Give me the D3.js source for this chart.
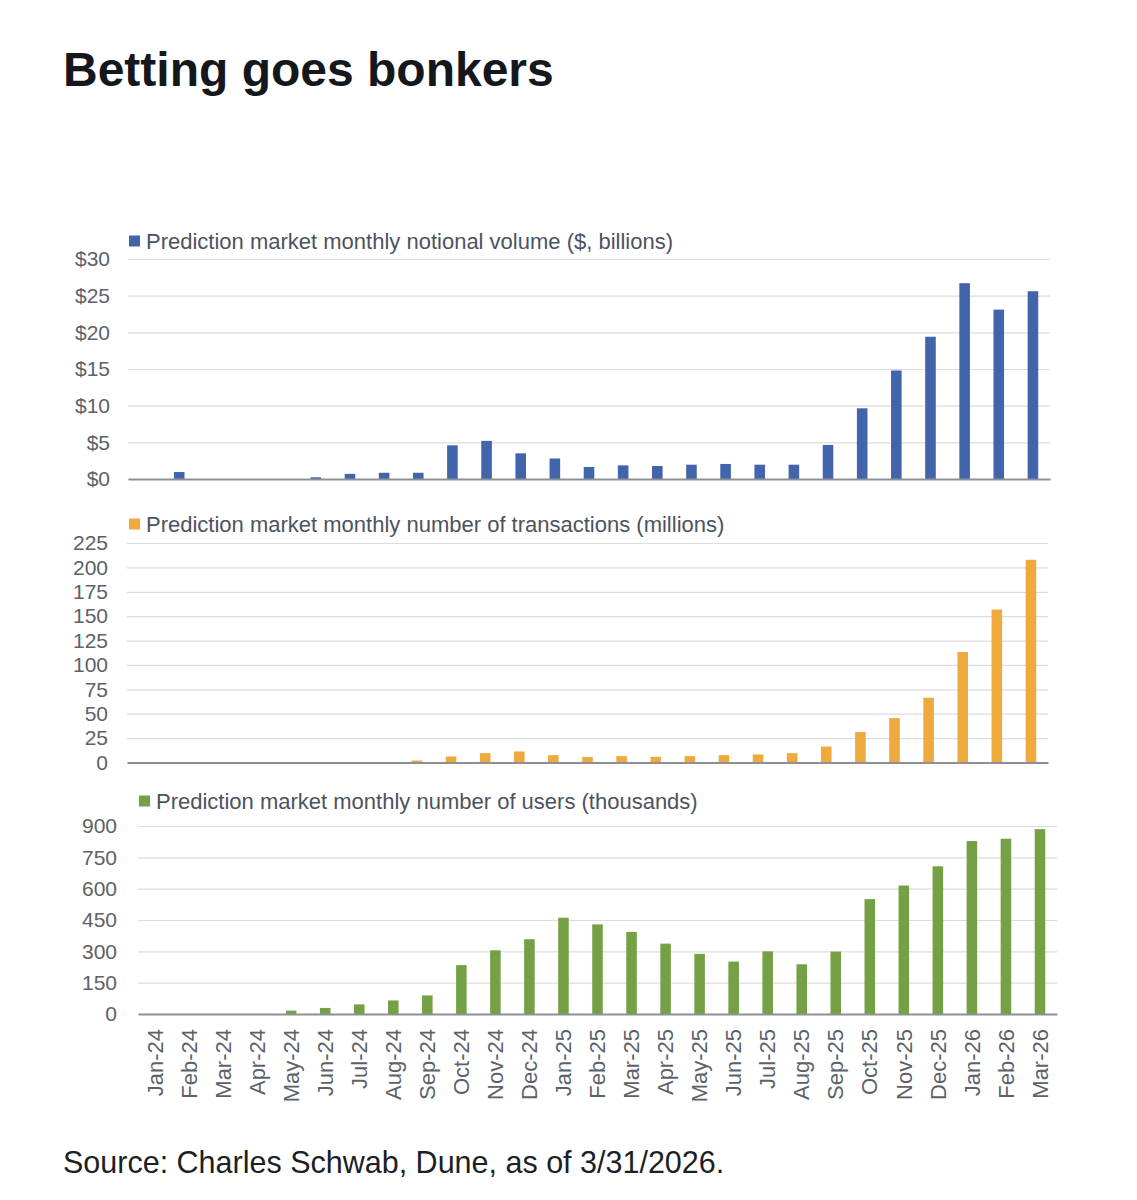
<!DOCTYPE html>
<html>
<head>
<meta charset="utf-8">
<script src="https://cdn.jsdelivr.net/npm/d3@7"></script>
<style>
  body { margin: 0; background: #fff; }
  svg { display: block; }
  .tick text { font-family: "Liberation Sans", Arial, sans-serif; fill: #5d6168; }
</style>
</head>
<body>
<div id="graphic"></div>
<script>
// months on the x axis
const months = [
  "Jan-24","Feb-24","Mar-24","Apr-24","May-24","Jun-24","Jul-24","Aug-24","Sep-24",
  "Oct-24","Nov-24","Dec-24","Jan-25","Feb-25","Mar-25","Apr-25","May-25","Jun-25",
  "Jul-25","Aug-25","Sep-25","Oct-25","Nov-25","Dec-25","Jan-26","Feb-26","Mar-26"
];

// notional volume, $ billions
const volume = [0, 0.95, 0, 0, 0, 0.23, 0.7, 0.85, 0.85, 4.6, 5.2, 3.5, 2.8, 1.64,
  1.86, 1.77, 1.95, 2.05, 1.95, 1.95, 4.64, 9.64, 14.8, 19.4, 26.7, 23.1, 25.6];

// number of transactions, millions
const transactions = [0, 0, 0, 0, 0, 0, 0, 0, 2, 6.2, 9.6, 11.3, 7.5, 5.6,
  6.5, 5.8, 6.5, 7.5, 8.2, 9.6, 16.4, 31.2, 45.5, 66.4, 113.3, 156.8, 207.8];

// number of users, thousands
const users = [0, 0, 0, 0, 16, 29, 46, 65, 89, 234, 305, 358, 461, 429,
  393, 337, 288, 251, 300, 238, 299, 550, 615, 707, 828, 839, 885];

// tick labels
const volumeTicks = [0, 5, 10, 15, 20, 25, 30];
const transactionTicks = [0, 25, 50, 75, 100, 125, 150, 175, 200, 225];
const userTicks = [0, 150, 300, 450, 600, 750, 900];

const labels = [
  "Prediction market monthly notional volume ($, billions)",
  "Prediction market monthly number of transactions (millions)",
  "Prediction market monthly number of users (thousands)"
];

const series = [
  { values: volume, ticks: volumeTicks, fmt: d => "$" + d, label: labels[0], color: "#4164ab" },
  { values: transactions, ticks: transactionTicks, fmt: d => d, label: labels[1], color: "#eeaa3c" },
  { values: users, ticks: userTicks, fmt: d => d, label: labels[2], color: "#76a045" }
];

// where each panel sits on the page
const layout = [
  { x0: 128, x1: 1050, top: 259, base: 479, tickRight: 110, legendX: 129, legendY: 241 },
  { x0: 127, x1: 1048, top: 543, base: 762.5, tickRight: 108, legendX: 129, legendY: 524 },
  { x0: 138, x1: 1057, top: 826, base: 1014, tickRight: 117, legendX: 139, legendY: 801 }
];

const W = 1137, H = 1200;

const svg = d3.select("#graphic")
  .append("svg")
  .attr("width", W)
  .attr("height", H);

svg.append("text")
  .attr("x", 63)
  .attr("y", 86)
  .attr("font-family", "Liberation Sans, Arial, sans-serif")
  .attr("font-weight", 700)
  .attr("font-size", 48)
  .attr("fill", "#14171c")
  .text("Betting goes bonkers");

series.forEach(function(s, idx){
  const L = layout[idx];
  const isLast = idx === series.length - 1;

  const xScale = d3.scaleBand()
    .domain(months)
    .range([L.x0, L.x1])
    .paddingInner(0.69)
    .paddingOuter(0.345);

  const yScale = d3.scaleLinear()
    .domain([0, d3.max(s.ticks)])
    .range([L.base, L.top]);

  const g = svg.append("g");

  // y axis with gridlines
  const yAxis = d3.axisLeft(yScale)
    .tickValues(s.ticks)
    .tickFormat(s.fmt)
    .tickSize(-(L.x1 - L.x0))
    .tickPadding(L.x0 - L.tickRight);

  const ya = g.append("g")
    .attr("transform", `translate(${L.x0},0)`)
    .call(yAxis);
  ya.select(".domain").remove();
  ya.selectAll(".tick line").attr("stroke", "#dcdde0").attr("stroke-width", 1.2);
  ya.selectAll(".tick text").attr("font-size", 21);

  // bars
  g.append("g")
    .selectAll("rect")
    .data(s.values)
    .enter()
    .append("rect")
    .attr("x", (d, i) => xScale(months[i]))
    .attr("width", xScale.bandwidth())
    .attr("y", d => yScale(d))
    .attr("height", d => yScale(0) - yScale(d))
    .attr("fill", s.color);

  // x axis baseline
  const xAxis = d3.axisBottom(xScale).tickSize(0).tickPadding(15);
  const xa = g.append("g")
    .attr("transform", `translate(0,${L.base})`)
    .call(xAxis);
  xa.select(".domain").attr("stroke", "#8d9094").attr("stroke-width", 2);
  if (isLast) {
    xa.selectAll(".tick text")
      .attr("font-size", 22)
      .attr("text-anchor", "end")
      .attr("transform", "rotate(-90)")
      .attr("x", -15)
      .attr("y", 0)
      .attr("dy", "0.35em");
  } else {
    xa.selectAll(".tick text").remove();
  }

  // legend
  g.append("rect")
    .attr("x", L.legendX)
    .attr("y", L.legendY - 5.5)
    .attr("width", 11)
    .attr("height", 11)
    .attr("fill", s.color);
  g.append("text")
    .attr("x", L.legendX + 17)
    .attr("y", L.legendY)
    .attr("dy", "0.35em")
    .attr("font-family", "Liberation Sans, Arial, sans-serif")
    .attr("font-size", 22)
    .attr("fill", "#4c5360")
    .text(s.label);
});

svg.append("text")
  .attr("x", 63)
  .attr("y", 1173)
  .attr("font-family", "Liberation Sans, Arial, sans-serif")
  .attr("font-size", 30.5)
  .attr("fill", "#1c1f24")
  .text("Source: Charles Schwab, Dune, as of 3/31/2026.");
</script>
</body>
</html>
